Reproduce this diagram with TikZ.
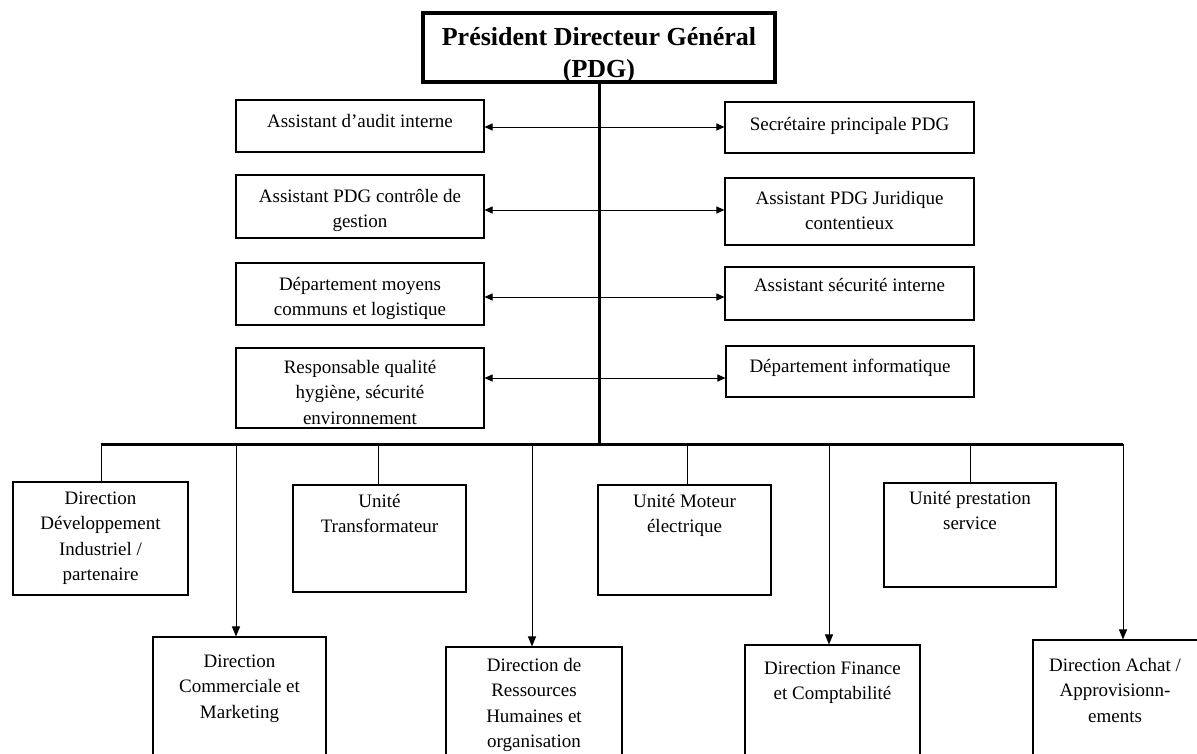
\documentclass[tikz,border=0pt]{standalone}
\usepackage{fontspec}
\setmainfont{Liberation Serif}
\usetikzlibrary{arrows.meta}
% centred lines of text whose baseline is that of the first line
\newcommand\stack[1]{\begin{tabular}[t]{@{}c@{}}#1\end{tabular}}
\begin{document}
\begin{tikzpicture}[x=1pt,y=-1pt,
  orgbox/.style={draw,rectangle,inner sep=0pt,line width=1.1pt},
  bigbox/.style={draw,rectangle,inner sep=0pt,line width=3.2pt},
  txt/.style={inner sep=0pt,anchor=base,font=\fontsize{19}{25.5}\selectfont},
  title/.style={inner sep=0pt,anchor=base,font=\fontsize{26}{32}\selectfont\bfseries},
  trunk/.style={line width=3pt},
  drop/.style={line width=1pt},
  droparrow/.style={line width=1pt,-{Triangle[length=10pt,width=8pt]}},
  linkarrow/.style={line width=1pt,{Triangle[length=8pt,width=7pt]}-{Triangle[length=8pt,width=7pt]}}]
\path[use as bounding box] (0,0) rectangle (1197,753);
\clip (0,0) rectangle (1197,753);

% top box
\node[bigbox,minimum width=352,minimum height=69] (pdg) at (599,47.5) {};
\node[title] (pdgt) at (599,45.5) {\stack{Président Directeur Général\\(PDG)}};

% staff boxes, left column
\node[orgbox,minimum width=248,minimum height=52] (L1) at (360,126) {};
\node[orgbox,minimum width=248,minimum height=63] (L2) at (360,206.5) {};
\node[orgbox,minimum width=248,minimum height=62] (L3) at (360,294) {};
\node[orgbox,minimum width=248,minimum height=80] (L4) at (360,388) {};
\node[txt] (L1t) at (360,127) {\stack{Assistant d’audit interne}};
\node[txt] (L2t) at (360,202) {\stack{Assistant PDG contrôle de\\gestion}};
\node[txt] (L3t) at (360,290) {\stack{Département moyens\\communs et logistique}};
\node[txt] (L4t) at (360,373) {\stack{Responsable qualité\\hygiène, sécurité\\environnement}};

% staff boxes, right column
\node[orgbox,minimum width=249,minimum height=51] (R1) at (849.5,127.5) {};
\node[orgbox,minimum width=249,minimum height=67] (R2) at (849.5,211.5) {};
\node[orgbox,minimum width=249,minimum height=53] (R3) at (849.5,293.5) {};
\node[orgbox,minimum width=248,minimum height=51] (R4) at (850,371.5) {};
\node[txt] (R1t) at (849.5,130) {\stack{Secrétaire principale PDG}};
\node[txt] (R2t) at (849.5,204) {\stack{Assistant PDG Juridique\\contentieux}};
\node[txt] (R3t) at (849.5,291) {\stack{Assistant sécurité interne}};
\node[txt] (R4t) at (850,372) {\stack{Département informatique}};

% departments, upper row
\node[orgbox,minimum width=175,minimum height=113] (B1) at (100.5,538.5) {};
\node[orgbox,minimum width=173,minimum height=107] (B3) at (379.5,538.5) {};
\node[orgbox,minimum width=173,minimum height=110] (B5) at (684.5,540) {};
\node[orgbox,minimum width=172,minimum height=104] (B7) at (970,535) {};
\node[txt] (B1t) at (100.5,504) {\stack{Direction\\Développement\\Industriel /\\partenaire}};
\node[txt] (B3t) at (379.5,507) {\stack{Unité\\Transformateur}};
\node[txt] (B5t) at (684.5,507) {\stack{Unité Moteur\\électrique}};
\node[txt] (B7t) at (970,504) {\stack{Unité prestation\\service}};

% departments, lower row (they run past the lower edge)
\node[orgbox,minimum width=173,minimum height=153] (B2) at (239.5,713.5) {};
\node[orgbox,minimum width=176,minimum height=143] (B4) at (534,718.5) {};
\node[orgbox,minimum width=175,minimum height=145] (B6) at (832.5,717.5) {};
\node[orgbox,minimum width=200,minimum height=150] (B8) at (1133,715) {};
\node[txt] (B2t) at (239.5,667) {\stack{Direction\\Commerciale et\\Marketing}};
\node[txt] (B4t) at (534,671) {\stack{Direction de\\Ressources\\Humaines et\\organisation}};
\node[txt] (B6t) at (832.5,674) {\stack{Direction Finance\\et Comptabilité}};
\node[txt] (B8t) at (1115,671) {\stack{Direction Achat /\\ Approvisionn-\\ements}};

% trunk and bus
\coordinate (busL) at (101,444);
\coordinate (busR) at (1123,444);
\coordinate (busC) at (pdg.south |- busL);
\draw[trunk] (pdg.south) -- (busC);
\draw[trunk] (busL) -- (busR);

% links between the staff boxes
\coordinate (a1) at (599,127);
\coordinate (a2) at (599,210);
\coordinate (a3) at (599,297);
\coordinate (a4) at (599,378);
\draw[linkarrow] (L1.east |- a1) -- (R1.west |- a1);
\draw[linkarrow] (L2.east |- a2) -- (R2.west |- a2);
\draw[linkarrow] (L3.east |- a3) -- (R3.west |- a3);
\draw[linkarrow] (L4.east |- a4) -- (R4.west |- a4);

% drops from the bus
\coordinate (d2) at (236,444);
\coordinate (d3) at (378,444);
\coordinate (d4) at (532,444);
\coordinate (d5) at (687,444);
\coordinate (d6) at (829,444);
\coordinate (d7) at (970,444);
\draw[drop] (busL) -- (busL |- B1.north);
\draw[droparrow] (d2) -- (d2 |- B2.north);
\draw[drop] (d3) -- (d3 |- B3.north);
\draw[droparrow] (d4) -- (d4 |- B4.north);
\draw[drop] (d5) -- (d5 |- B5.north);
\draw[droparrow] (d6) -- (d6 |- B6.north);
\draw[drop] (d7) -- (d7 |- B7.north);
\draw[droparrow] (busR) -- (busR |- B8.north);
\end{tikzpicture}
\end{document}
